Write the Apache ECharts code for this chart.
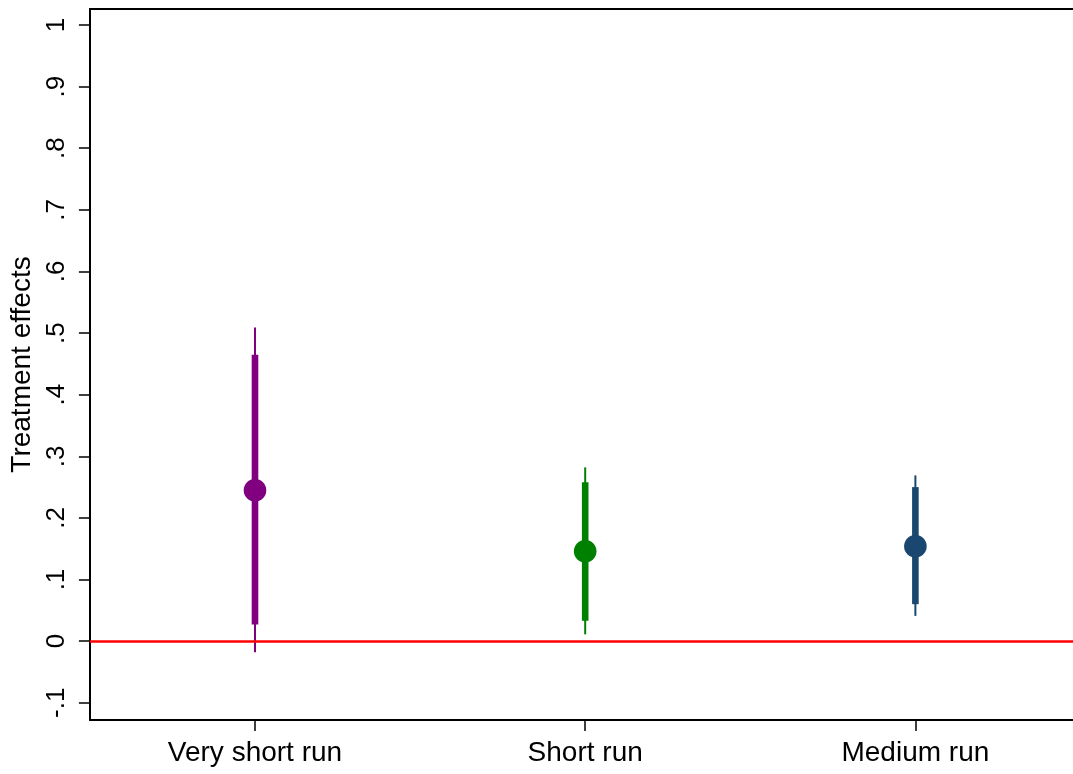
<!DOCTYPE html>
<html>
<head>
<meta charset="utf-8">
<script src="https://cdn.jsdelivr.net/npm/echarts@6/dist/echarts.min.js"></script>
<style>
html,body{margin:0;padding:0;background:#fff;}
#chart{width:1073px;height:774px;}
</style>
</head>
<body>
<div id="chart"></div>
<script>
// ---- data ----
var categories = ['Very short run', 'Short run', 'Medium run'];
var estimates  = [0.245, 0.146, 0.154];
var ci90Low    = [0.027, 0.033, 0.060];
var ci90High   = [0.465, 0.258, 0.250];
var ci95Low    = [-0.018, 0.011, 0.041];
var ci95High   = [0.509, 0.282, 0.269];
var colors     = ['#800080', '#008000', '#1a476f'];
var yTickValues = [-0.1, 0, 0.1, 0.2, 0.3, 0.4, 0.5, 0.6, 0.7, 0.8, 0.9, 1];
var yTickLabels = ['-.1', '0', '.1', '.2', '.3', '.4', '.5', '.6', '.7', '.8', '.9', '1'];
var xTickValues = [1, 2, 3];

var FONT = 'Liberation Sans, Arial, Helvetica, sans-serif';

var rows = categories.map(function (c, i) {
  return [i + 1, estimates[i], ci95Low[i], ci95High[i], ci90Low[i], ci90High[i], i];
});

var chart = echarts.init(document.getElementById('chart'), null, {renderer: 'canvas'});

chart.setOption({
  animation: false,
  backgroundColor: '#ffffff',
  grid: {left: 88, right: 0, top: 9, bottom: 54, containLabel: false},
  xAxis: [{
    type: 'value',
    min: 0.5,
    max: 3 + (1073 - 915) / 331,
    splitLine: {show: false},
    axisLine: {show: true, onZero: false, lineStyle: {color: '#000', width: 2}},
    axisTick: {show: true, length: 11, lineStyle: {color: '#000', width: 1.5}, customValues: xTickValues},
    axisLabel: {
      show: true, color: '#000', fontSize: 28, fontFamily: FONT, margin: 19,
      customValues: xTickValues,
      formatter: function (v) { return categories[Math.round(v) - 1] || ''; }
    }
  }, {
    type: 'value',
    position: 'top',
    min: 0.5,
    max: 3 + (1073 - 915) / 331,
    splitLine: {show: false},
    axisLine: {show: true, onZero: false, lineStyle: {color: '#000', width: 2}},
    axisTick: {show: false},
    axisLabel: {show: false}
  }],
  yAxis: {
    type: 'value',
    min: -0.128,
    max: 1.026,
    name: 'Treatment effects',
    nameLocation: 'middle',
    nameGap: 52,
    nameTextStyle: {color: '#000', fontSize: 28, fontFamily: FONT},
    splitLine: {show: false},
    axisLine: {show: true, onZero: false, lineStyle: {color: '#000', width: 2}},
    axisTick: {show: true, length: 11, lineStyle: {color: '#000', width: 1.5}, customValues: yTickValues},
    axisLabel: {
      show: true, color: '#000', fontSize: 26, fontFamily: FONT, rotate: 90, margin: 20,
      customValues: yTickValues,
      formatter: function (v) {
        for (var i = 0; i < yTickValues.length; i++) {
          if (Math.abs(yTickValues[i] - v) < 1e-9) return yTickLabels[i];
        }
        return '';
      }
    }
  },
  series: [{
    type: 'custom',
    xAxisIndex: 0,
    data: rows,
    encode: {x: 0, y: [1, 2, 3, 4, 5]},
    renderItem: function (params, api) {
      var x = api.value(0);
      var col = colors[api.value(6)];
      var p95a = api.coord([x, api.value(2)]);
      var p95b = api.coord([x, api.value(3)]);
      var p90a = api.coord([x, api.value(4)]);
      var p90b = api.coord([x, api.value(5)]);
      var pe = api.coord([x, api.value(1)]);
      return {
        type: 'group',
        children: [{
          type: 'line',
          shape: {x1: p95a[0], y1: p95a[1], x2: p95b[0], y2: p95b[1]},
          style: {stroke: col, lineWidth: 2}
        }, {
          type: 'rect',
          shape: {x: p90b[0] - 3.3, y: p90b[1], width: 6.6, height: p90a[1] - p90b[1]},
          style: {fill: col}
        }, {
          type: 'circle',
          shape: {cx: pe[0], cy: pe[1], r: 11.3},
          style: {fill: col}
        }]
      };
    },
    markLine: {
      silent: true,
      symbol: ['none', 'none'],
      label: {show: false},
      lineStyle: {color: '#ff0000', width: 2.5, type: 'solid'},
      data: [{yAxis: 0}]
    },
    z: 3
  }]
});
</script>
</body>
</html>
